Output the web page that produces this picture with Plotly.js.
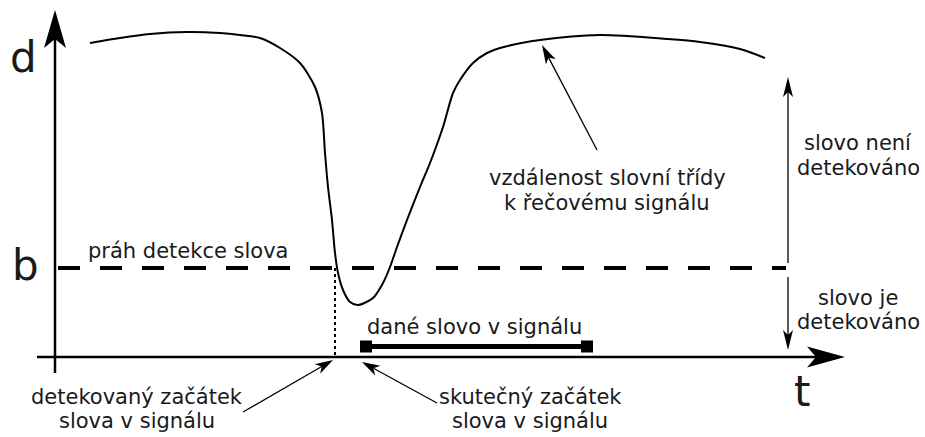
<!DOCTYPE html>
<html>
<head>
<meta charset="utf-8">
<script src="https://cdn.plot.ly/plotly-3.0.1.min.js"></script>
<style>html,body{margin:0;padding:0;background:#fff}#chart{width:925px;height:437px}</style>
</head>
<body>
<div id="chart"></div>
<script>
// ---- data (t = time, d = distance; t axis at d = 0) ----
const curveT = [90,120,150,187,220,240,260,280,300,315,322,325,328,332,335,338,343,350,358,373,383,390,397,407,420,430,443,453,460,473,487,500,540,600,667,700,740,765];
const curveD = [314,319,323,325,324,322,319,309,294,270,244,204,170,137,104,84,67,55,52,59,74,90,110,137,170,194,230,264,277,294,304,309,317,322,318,315,308,299];
const thresholdB = 89;             // práh detekce slova
const thresholdSpan = [58, 786];
const detectedStartT = 335;        // detekovaný začátek
const wordStartT = 366;            // skutečný začátek
const wordEndT = 587;
const wordBarD = 10.5;
const axisT = [37, 845];           // t axis extent
const axisD = [-16, 347];          // d axis extent
const axisOriginT = 55;
const regionArrowT = 788;
const regionUpper = [94, 280];
const regionLower = [80, 7];
// annotation arrows: [tailT, tailD, tipT, tipD]
const pointerCurve = [597, 207, 542, 312];
const pointerDetected = [243, -55, 333, -3];
const pointerActual = [437, -46, 362, -5];

const INK = '#000';
const TXT = '#1a1a1a';
const FONT = 'DejaVu Sans, sans-serif';

function head(tipX, tipY, fromX, fromY, L, W, n) {
  const dx = tipX - fromX, dy = tipY - fromY;
  const len = Math.hypot(dx, dy);
  const ux = dx / len, uy = dy / len, px = -uy, py = ux;
  const bx = tipX - L * ux, by = tipY - L * uy;
  const nx = tipX - (L - n) * ux, ny = tipY - (L - n) * uy;
  return {
    type: 'path', xref: 'x', yref: 'y', fillcolor: INK, line: {width: 0},
    path: `M${tipX},${tipY}L${bx + W * px},${by + W * py}L${nx},${ny}L${bx - W * px},${by - W * py}Z`
  };
}
function shaft(x0, y0, x1, y1, w) {
  return {type: 'line', xref: 'x', yref: 'y', x0, y0, x1, y1, line: {color: INK, width: w}};
}
function arrow(a, L, W, n, w) {
  const [tx, ty, hx, hy] = a;
  const dx = hx - tx, dy = hy - ty, len = Math.hypot(dx, dy);
  const ex = hx - (L - n) * dx / len, ey = hy - (L - n) * dy / len;
  return [shaft(tx, ty, ex, ey, w), head(hx, hy, tx, ty, L, W, n)];
}

const shapes = [];
// axes
shapes.push(...arrow([axisOriginT, axisD[0], axisOriginT, axisD[1]], 38, 11, 9, 2.5));
shapes.push(...arrow([axisT[0], 0, axisT[1], 0], 38, 10.5, 9, 2.5));
// region arrows
shapes.push(...arrow([regionArrowT, regionUpper[0], regionArrowT, regionUpper[1]], 20, 5, 5, 1.3));
shapes.push(...arrow([regionArrowT, regionLower[0], regionArrowT, regionLower[1]], 20, 5, 5, 1.3));
// pointers
shapes.push(...arrow(pointerCurve, 19, 5.5, 5, 1.3));
shapes.push(...arrow(pointerDetected, 18, 5.5, 5, 1.3));
shapes.push(...arrow(pointerActual, 18, 5.5, 5, 1.3));

const traces = [
  {x: [thresholdSpan[0], thresholdSpan[1]], y: [thresholdB, thresholdB], mode: 'lines',
   line: {color: INK, width: 4, dash: '22px,20px'}, hoverinfo: 'skip'},
  {x: [detectedStartT, detectedStartT], y: [thresholdB, 0], mode: 'lines',
   line: {color: INK, width: 2, dash: 'dot'}, hoverinfo: 'skip'},
  {x: curveT, y: curveD, mode: 'lines', line: {color: INK, width: 2, shape: 'spline', smoothing: 0.8}, hoverinfo: 'skip'},
  {x: [wordStartT, wordEndT], y: [wordBarD, wordBarD], mode: 'lines+markers',
   line: {color: INK, width: 5}, marker: {symbol: 'square', size: 12, color: INK}, hoverinfo: 'skip'}
];

function txt(x, y, text, size) {
  return {x, y, xref: 'x', yref: 'y', text, showarrow: false, xanchor: 'center', yanchor: 'middle',
          font: {family: FONT, size: size || 21, color: TXT}};
}
const annotations = [
  txt(23, 300, 'd', 42),
  txt(25, 92, 'b', 42),
  txt(802, -34, 't', 42),
  txt(188, 106, 'práh detekce slova'),
  txt(474, 30, 'dané slovo v signálu'),
  txt(607, 179, 'vzdálenost slovní třídy'),
  txt(607, 154, 'k řečovému signálu'),
  txt(858, 214, 'slovo není'),
  txt(858, 189, 'detekováno'),
  txt(858, 59, 'slovo je'),
  txt(858, 35, 'detekováno'),
  txt(137, -40, 'detekovaný začátek'),
  txt(137, -64, 'slova v signálu'),
  txt(530, -40, 'skutečný začátek'),
  txt(530, -64, 'slova v signálu')
];

const layout = {
  width: 925, height: 437, margin: {l: 0, r: 0, t: 0, b: 0},
  paper_bgcolor: '#fff', plot_bgcolor: '#fff', showlegend: false,
  xaxis: {range: [0, 925], visible: false, fixedrange: true},
  yaxis: {range: [-80, 357], visible: false, fixedrange: true},
  shapes, annotations
};
Plotly.newPlot('chart', traces, layout, {displayModeBar: false, staticPlot: true});
</script>
</body>
</html>
